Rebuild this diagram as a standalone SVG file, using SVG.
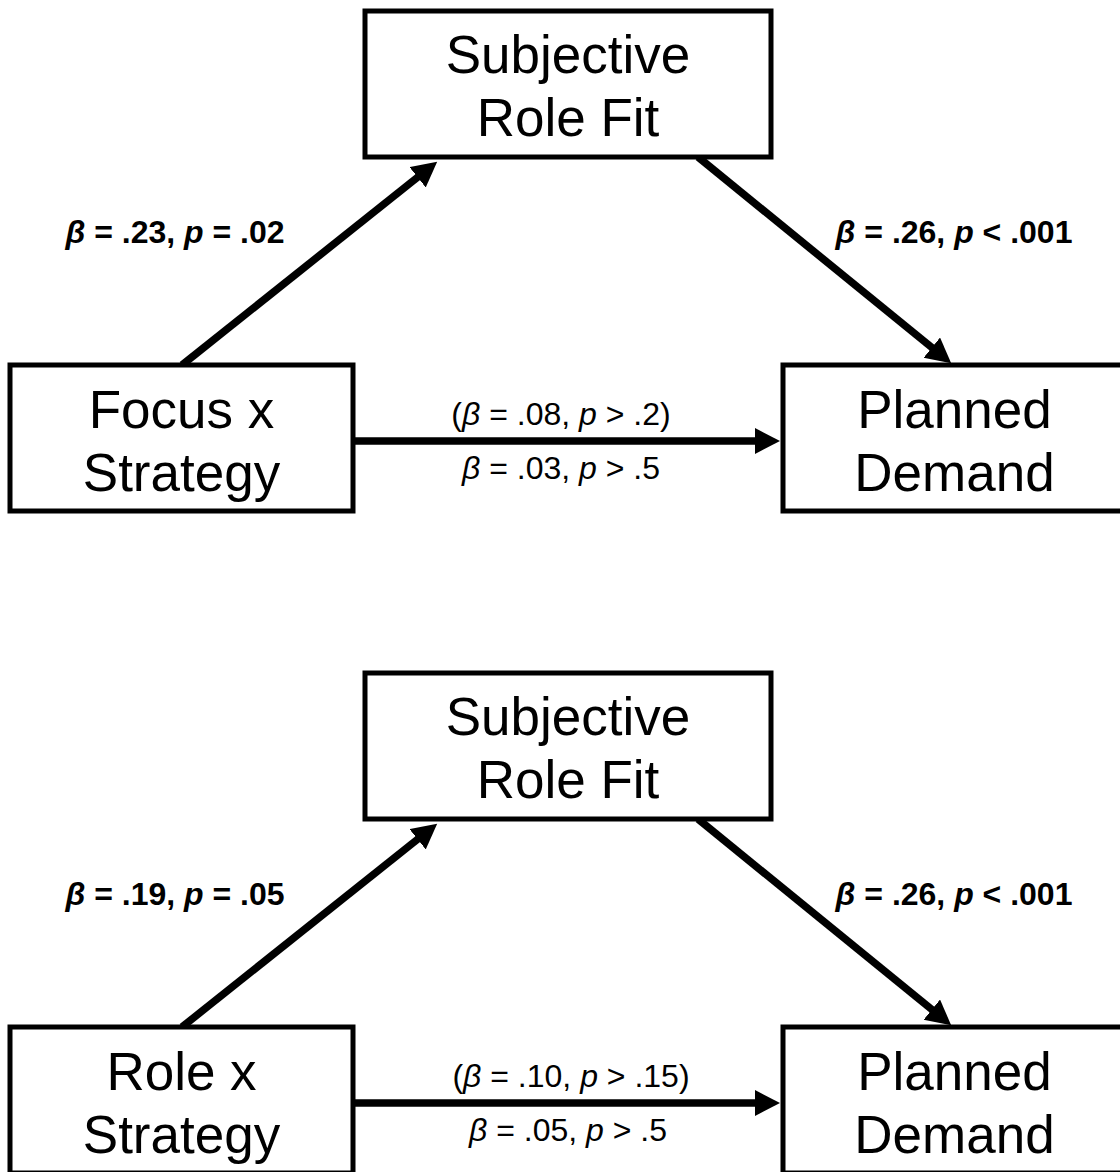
<svg xmlns="http://www.w3.org/2000/svg" width="1120" height="1172" viewBox="0 0 1120 1172">
  <style>
    .box { fill: #ffffff; stroke: #000000; stroke-width: 5; }
    .conn { stroke: #000000; stroke-width: 7.5; fill: none; marker-end: url(#arrow); }
    .node { font-family: "Liberation Sans", Arial, sans-serif; font-size: 53px; fill: #000000; text-anchor: middle; }
    .lbl { font-family: "Liberation Sans", Arial, sans-serif; font-size: 32px; fill: #000000; text-anchor: middle; }
    .blbl { font-family: "Liberation Sans", Arial, sans-serif; font-size: 32px; font-weight: bold; fill: #000000; text-anchor: middle; }
    .it { font-style: italic; }
  </style>
  <defs>
    <marker id="arrow" markerUnits="userSpaceOnUse" markerWidth="28" markerHeight="28" refX="1" refY="13" orient="auto">
      <path d="M0,0 L25,13 L0,26 Z" fill="#000000"/>
    </marker>
  </defs>

  <!-- Panel 1 -->
  <g id="connectors-1">
    <line class="conn" x1="182" y1="365" x2="418.4" y2="176.6"/>
    <line class="conn" x1="698" y1="157" x2="932.6" y2="348.2"/>
    <line class="conn" x1="353" y1="441" x2="756" y2="441"/>
  </g>
  <g id="node-srf-1">
    <rect class="box" x="365" y="11" width="406" height="146"/>
    <text class="node" x="568" y="73">Subjective</text>
    <text class="node" x="568" y="136">Role Fit</text>
  </g>
  <g id="node-fs-1">
    <rect class="box" x="10" y="365" width="343" height="146"/>
    <text class="node" x="181.5" y="428">Focus x</text>
    <text class="node" x="181.5" y="491">Strategy</text>
  </g>
  <g id="node-pd-1">
    <rect class="box" x="783" y="365" width="343" height="146"/>
    <text class="node" x="954.5" y="428">Planned</text>
    <text class="node" x="954.5" y="491">Demand</text>
  </g>
  <g id="labels-1">
    <text class="blbl" x="175" y="243"><tspan class="it">β</tspan> = .23, <tspan class="it">p</tspan> = .02</text>
    <text class="blbl" x="954" y="243"><tspan class="it">β</tspan> = .26, <tspan class="it">p</tspan> &lt; .001</text>
    <text class="lbl" x="561" y="425">(<tspan class="it">β</tspan> = .08, <tspan class="it">p</tspan> &gt; .2)</text>
    <text class="lbl" x="561" y="479"><tspan class="it">β</tspan> = .03, <tspan class="it">p</tspan> &gt; .5</text>
  </g>

  <!-- Panel 2 -->
  <g id="connectors-2">
    <line class="conn" x1="182" y1="1027" x2="418.4" y2="838.6"/>
    <line class="conn" x1="698" y1="819" x2="932.6" y2="1010.2"/>
    <line class="conn" x1="353" y1="1103" x2="756" y2="1103"/>
  </g>
  <g id="node-srf-2">
    <rect class="box" x="365" y="673" width="406" height="146"/>
    <text class="node" x="568" y="735">Subjective</text>
    <text class="node" x="568" y="798">Role Fit</text>
  </g>
  <g id="node-rs-2">
    <rect class="box" x="10" y="1027" width="343" height="146"/>
    <text class="node" x="181.5" y="1090">Role x</text>
    <text class="node" x="181.5" y="1153">Strategy</text>
  </g>
  <g id="node-pd-2">
    <rect class="box" x="783" y="1027" width="343" height="146"/>
    <text class="node" x="954.5" y="1090">Planned</text>
    <text class="node" x="954.5" y="1153">Demand</text>
  </g>
  <g id="labels-2">
    <text class="blbl" x="175" y="905"><tspan class="it">β</tspan> = .19, <tspan class="it">p</tspan> = .05</text>
    <text class="blbl" x="954" y="905"><tspan class="it">β</tspan> = .26, <tspan class="it">p</tspan> &lt; .001</text>
    <text class="lbl" x="571" y="1087">(<tspan class="it">β</tspan> = .10, <tspan class="it">p</tspan> &gt; .15)</text>
    <text class="lbl" x="568" y="1141"><tspan class="it">β</tspan> = .05, <tspan class="it">p</tspan> &gt; .5</text>
  </g>
</svg>
